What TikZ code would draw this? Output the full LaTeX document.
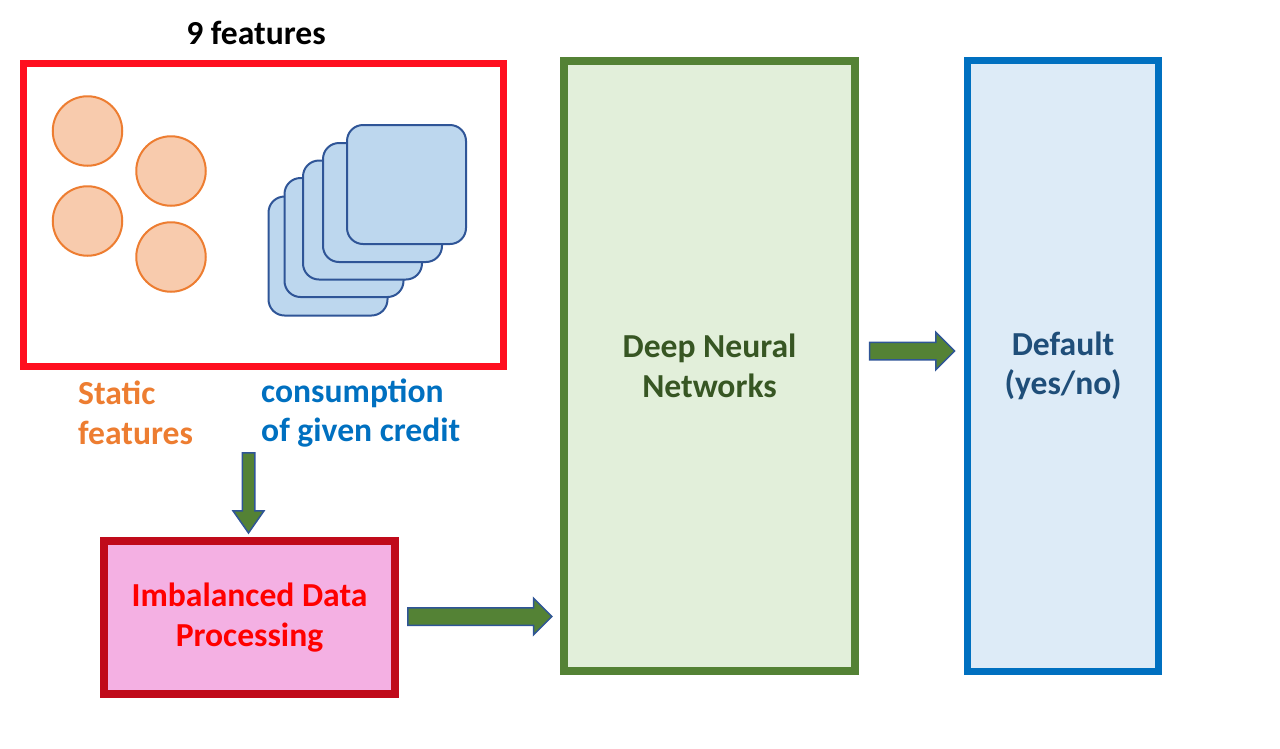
\documentclass[tikz,border=0pt]{standalone}
\usepackage{fontspec}
\setmainfont{Carlito}
\usetikzlibrary{positioning,calc,shapes.arrows}
\definecolor{featred}{HTML}{FF0F1F}
\definecolor{dotline}{HTML}{ED7D31}
\definecolor{dotfill}{HTML}{F8CBAD}
\definecolor{cardline}{HTML}{2F5597}
\definecolor{cardfill}{HTML}{BDD7EE}
\definecolor{imbline}{HTML}{C00A1A}
\definecolor{imbfill}{HTML}{F4B0E3}
\definecolor{imbtext}{HTML}{FF0000}
\definecolor{dnnline}{HTML}{548235}
\definecolor{dnnfill}{HTML}{E2EFDA}
\definecolor{dnntext}{HTML}{375623}
\definecolor{outline}{HTML}{0070C0}
\definecolor{outfill}{HTML}{DDEBF7}
\definecolor{outtext}{HTML}{1F4E79}
\tikzset{frame/.style={draw,line width=7.5pt,inner sep=0pt,align=center,
  font=\fontsize{33.6}{39.5}\selectfont\bfseries},
  dot/.style={circle,draw=dotline,fill=dotfill,line width=2pt,minimum size=69.5pt,inner sep=0pt},
  card/.style={draw=cardline,fill=cardfill,line width=2pt,rounded corners=16pt,
  minimum size=119pt,inner sep=0pt},
  lbl/.style={font=\fontsize{33.6}{39.5}\selectfont\bfseries,align=left,inner sep=0pt},
  blockarrow/.style={single arrow,draw=cardline,fill=dnnline,line width=1.5pt,inner xsep=0pt}}

\begin{document}
\begin{tikzpicture}[x=1pt,y=-1pt]
\useasboundingbox (0,0) rectangle (1280,748);
% input features
\node[frame,draw=featred,line width=7pt,minimum width=480pt,minimum height=303pt] (feat) at (263.5,215) {};
\node[lbl] (nfeat) at (256,33) {9 features};
\node[dot] (d1) at (87.5,131) {};
\node[dot] (d2) at (171,171) {};
\node[dot] (d3) at (87.5,221) {};
\node[dot] (d4) at (171,257) {};
\node[card] (s1) at (328,256) {};
\node[card] (s2) at (344,237.5) {};
\node[card] (s3) at (362.5,220) {};
\node[card] (s4) at (382.5,202.5) {};
\node[card] (s5) at (406.5,184.5) {};
\node[lbl,text=dotline,anchor=west] (static) at (78,413) {Static\\features};
\node[lbl,text=outline,anchor=west] (cons) at (261,413) {consumption\\of given credit};
% processing, model, output
\node[frame,draw=imbline,fill=imbfill,text=imbtext,minimum width=291pt,minimum height=153pt] (imb) at (249.5,617.5) {Imbalanced Data\\Processing};
\node[frame,draw=dnnline,fill=dnnfill,text=dnntext,minimum width=291pt,minimum height=610pt] (dnn) at (709.5,366) {Deep Neural\\Networks};
\node[frame,draw=outline,fill=outfill,text=outtext,minimum width=191pt,minimum height=611pt,right=105pt of dnn] (dflt) {Default\\(yes/no)};
\node[blockarrow,minimum height=80pt,inner ysep=5.5pt,single arrow head extend=9.25pt,
  single arrow tip angle=70,rotate=-90,anchor=tip] (down) at ($(imb.north)+(-1,-3)$) {};
\node[blockarrow,minimum height=144pt,inner ysep=8pt,single arrow head extend=9.5pt] (toDnn) at ($(imb.east)!0.5!(dnn.west |- imb.east)+(-4,-1)$) {};
\node[blockarrow,minimum height=85pt,inner ysep=8pt,single arrow head extend=10pt] (toOut) at ($(dnn.east)!0.5!(dflt.west)+(-3.5,-15)$) {};
\end{tikzpicture}
\end{document}
